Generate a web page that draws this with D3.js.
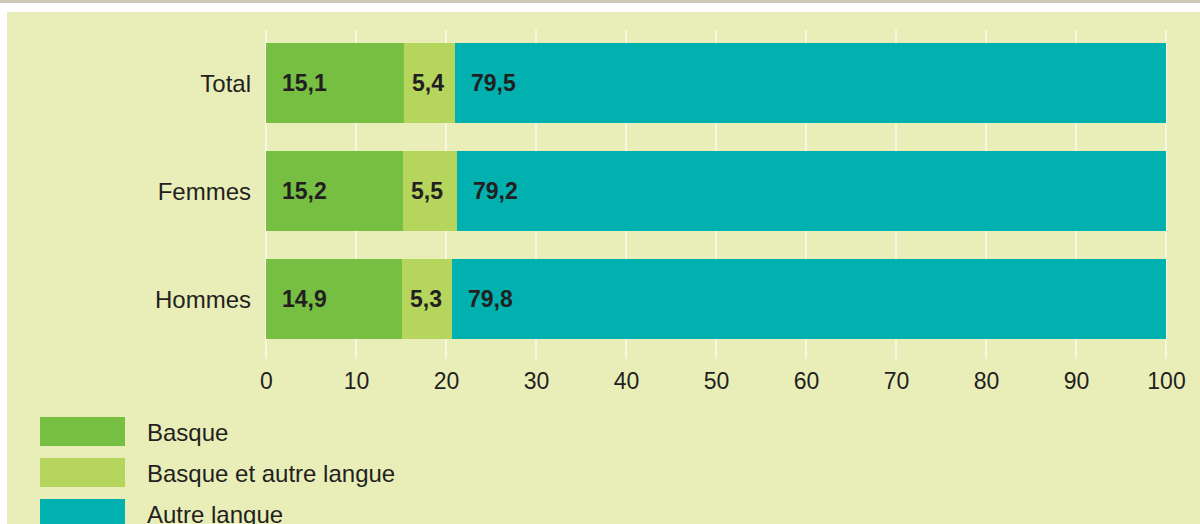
<!DOCTYPE html>
<html>
<head>
<meta charset="utf-8">
<script src="https://cdn.jsdelivr.net/npm/d3@7"></script>
<style>
  html, body { margin: 0; padding: 0; background: #ffffff; }
  svg { display: block; font-family: "Liberation Sans", Arial, sans-serif; }
</style>
</head>
<body>
<svg id="chart" width="1200" height="524"></svg>
<script>
// Donnees (longueurs des barres)
const categories = ['Total', 'Femmes', 'Hommes'];
const series = ['Basque', 'Basque et autre langue', 'Autre langue'];
const basque = [15.33, 15.22, 15.11];
const basqueAutre = [5.67, 6.0, 5.56];
const autre = [79.0, 78.78, 79.33];
// Valeurs affichees
const basqueLabels = ['15,1', '15,2', '14,9'];
const basqueAutreLabels = ['5,4', '5,5', '5,3'];
const autreLabels = ['79,5', '79,2', '79,8'];
const ticks = [0, 10, 20, 30, 40, 50, 60, 70, 80, 90, 100];

const colors = ['#76bf43', '#b5d55c', '#00b1b0'];
const labelOffset = [16, 8, 16];
const labels = [basqueLabels, basqueAutreLabels, autreLabels];

const svg = d3.select('#chart');
const W = 1200, H = 524;

// Fond
svg.append('rect').attr('x', 0).attr('y', 0).attr('width', W).attr('height', 3).attr('fill', '#cdc9b8');
svg.append('rect').attr('x', 7).attr('y', 12).attr('width', W - 7).attr('height', H - 12).attr('fill', '#e9eeb8');

// Tableau pour la pile
const rows = categories.map((c, i) => ({
    cat: c,
    idx: i,
    'Basque': basque[i],
    'Basque et autre langue': basqueAutre[i],
    'Autre langue': autre[i]
}));
const stacked = d3.stack().keys(series)(rows);

const x = d3.scaleLinear().domain([0, 100]).range([266, 1166]);
// bandes de 80 px, pas de 108
const y = d3.scaleBand().domain(categories)
    .range([43, 43 + 3 * 108 - 28])
    .paddingInner(28 / 108).paddingOuter(0);

// Grille
svg.append('g')
    .selectAll('line')
    .data(ticks)
    .enter()
    .append('line')
    .attr('x1', d => x(d)).attr('x2', d => x(d))
    .attr('y1', 30).attr('y2', 359)
    .attr('stroke', '#ffffff')
    .attr('stroke-width', 1.2);

// Barres
const g = svg.append('g');
stacked.forEach((s, si) => {
    g.selectAll('.bar-' + si)
        .data(s)
        .enter()
        .append('rect')
        .attr('x', d => x(d[0]))
        .attr('width', d => x(d[1]) - x(d[0]))
        .attr('y', d => y(d.data.cat))
        .attr('height', y.bandwidth())
        .attr('fill', colors[si]);

    g.selectAll('.lab-' + si)
        .data(s)
        .enter()
        .append('text')
        .attr('x', d => x(d[0]) + labelOffset[si])
        .attr('y', d => y(d.data.cat) + y.bandwidth() / 2)
        .attr('dominant-baseline', 'central')
        .style('font-size', '23px')
        .style('font-weight', 'bold')
        .style('fill', '#231f20')
        .text(d => labels[si][d.data.idx]);
});

// Libelles des categories
svg.append('g')
    .selectAll('text')
    .data(categories)
    .enter()
    .append('text')
    .attr('x', 251)
    .attr('y', d => y(d) + y.bandwidth() / 2)
    .attr('text-anchor', 'end')
    .attr('dominant-baseline', 'central')
    .style('font-size', '24px')
    .style('fill', '#231f20')
    .text(d => d);

// Axe X
const xAxis = svg.append('g')
    .attr('transform', 'translate(0,359)')
    .call(d3.axisBottom(x).tickValues(ticks).tickSize(0).tickPadding(14));
xAxis.select('.domain').remove();
xAxis.selectAll('text')
    .style('font-size', '23px')
    .style('font-family', '"Liberation Sans", Arial, sans-serif')
    .style('fill', '#231f20');

// Legende
const leg = svg.append('g');
series.forEach((s, i) => {
    const yy = 417 + i * 41;
    leg.append('rect').attr('x', 40).attr('y', yy).attr('width', 85).attr('height', 29).attr('fill', colors[i]);
    leg.append('text')
        .attr('x', 147)
        .attr('y', yy + 15)
        .attr('dominant-baseline', 'central')
        .style('font-size', '24px')
        .style('fill', '#231f20')
        .text(s);
});
</script>
</body>
</html>
